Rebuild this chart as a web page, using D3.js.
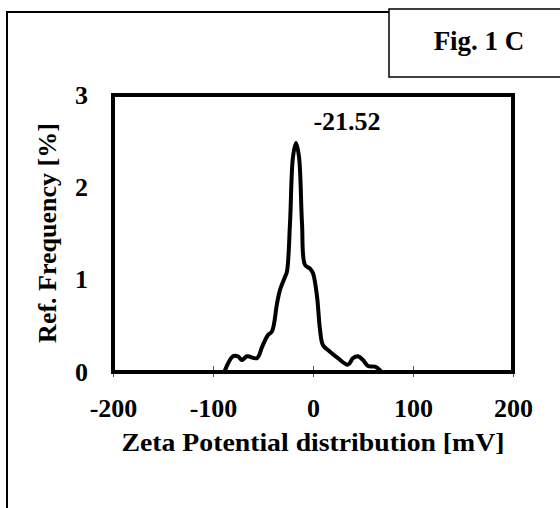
<!DOCTYPE html>
<html>
<head>
<meta charset="utf-8">
<script src="https://cdn.jsdelivr.net/npm/d3@7"></script>
<style>
  body { margin: 0; background: #fff; }
  text { font-family: "Liberation Serif", "Times New Roman", serif; font-weight: bold; fill: #000; }
</style>
</head>
<body>
<div id="chart"></div>
<script>
// zeta potential (mV) and relative frequency (%)
const zeta = [-88, -80, -75, -71, -66, -56, -51, -45, -41, -36, -33, -28, -26, -23, -20, -17, -14, -11, -8, -3, 0, 4, 7, 10, 17, 25, 35, 40, 45, 50, 55, 62, 67];
const freq = [0.02, 0.17, 0.17, 0.13, 0.17, 0.15, 0.27, 0.40, 0.44, 0.74, 0.89, 1.03, 1.09, 1.61, 2.33, 2.48, 2.33, 1.61, 1.16, 1.12, 1.07, 0.82, 0.46, 0.29, 0.22, 0.15, 0.08, 0.15, 0.17, 0.13, 0.065, 0.057, 0.02];
const xTicks = [-200, -100, 0, 100, 200];
const yTicks = [0, 1, 2, 3];
const peakLabel = "-21.52";
const figLabel = "Fig. 1 C";

const W = 560, H = 508;
const plot = { left: 113, right: 513, top: 95, bottom: 372 };

const svg = d3.select("#chart").append("svg")
  .attr("width", W)
  .attr("height", H);

// outer frame (open on the right and bottom, like the cropped original)
svg.append("path")
  .attr("d", "M7,508 V12 H560")
  .attr("fill", "none")
  .attr("stroke", "#000")
  .attr("stroke-width", 2);

// figure label box
svg.append("rect")
  .attr("x", 389).attr("y", 9)
  .attr("width", 180).attr("height", 68)
  .attr("fill", "#fff")
  .attr("stroke", "#000")
  .attr("stroke-width", 1.5);

svg.append("text")
  .attr("x", 479).attr("y", 50)
  .attr("text-anchor", "middle")
  .attr("font-size", 27)
  .text(figLabel);

const x = d3.scaleLinear().domain([-200, 200]).range([plot.left, plot.right]);
const y = d3.scaleLinear().domain([0, 3]).range([plot.bottom, plot.top]);

const fmt = d => d3.format("d")(d).replace("\u2212", "-");

// x ticks crossing the bottom axis
const xAxis = d3.axisBottom(x).tickValues(xTicks).tickSize(5).tickPadding(22).tickFormat(fmt);
const gx = svg.append("g")
  .attr("transform", "translate(0," + plot.bottom + ")")
  .call(xAxis);
gx.select(".domain").remove();
gx.selectAll(".tick line").attr("y1", -6).attr("stroke", "#555").attr("stroke-width", 1);
gx.selectAll(".tick text")
  .attr("font-size", 26)
  .attr("font-family", "Liberation Serif")
  .attr("font-weight", "bold");

const yAxis = d3.axisLeft(y).tickValues(yTicks).tickSize(0).tickPadding(25).tickFormat(fmt);
const gy = svg.append("g")
  .attr("transform", "translate(" + plot.left + ",0)")
  .call(yAxis);
gy.select(".domain").remove();
gy.selectAll(".tick text")
  .attr("font-size", 26)
  .attr("font-family", "Liberation Serif")
  .attr("font-weight", "bold");

// curve
const pts = zeta.map((d, i) => [d, freq[i]]);
const line = d3.line()
  .x(d => x(d[0]))
  .y(d => y(d[1]))
  .curve(d3.curveCatmullRom.alpha(0.5));

svg.append("path")
  .datum(pts)
  .attr("fill", "none")
  .attr("stroke", "#000")
  .attr("stroke-width", 4)
  .attr("stroke-linejoin", "round")
  .attr("stroke-linecap", "round")
  .attr("d", line);

// plot frame
svg.append("rect")
  .attr("x", plot.left).attr("y", plot.top)
  .attr("width", plot.right - plot.left)
  .attr("height", plot.bottom - plot.top)
  .attr("fill", "none")
  .attr("stroke", "#000")
  .attr("stroke-width", 4);

// peak annotation
svg.append("text")
  .attr("x", 347).attr("y", 130)
  .attr("text-anchor", "middle")
  .attr("font-size", 26)
  .text(peakLabel);

// axis titles
svg.append("text")
  .attr("x", 313).attr("y", 451)
  .attr("text-anchor", "middle")
  .attr("font-size", 26)
  .attr("textLength", 383)
  .attr("lengthAdjust", "spacingAndGlyphs")
  .text("Zeta Potential distribution [mV]");

svg.append("text")
  .attr("transform", "translate(56,233) rotate(-90)")
  .attr("text-anchor", "middle")
  .attr("font-size", 26)
  .text("Ref. Frequency [%]");
</script>
</body>
</html>
